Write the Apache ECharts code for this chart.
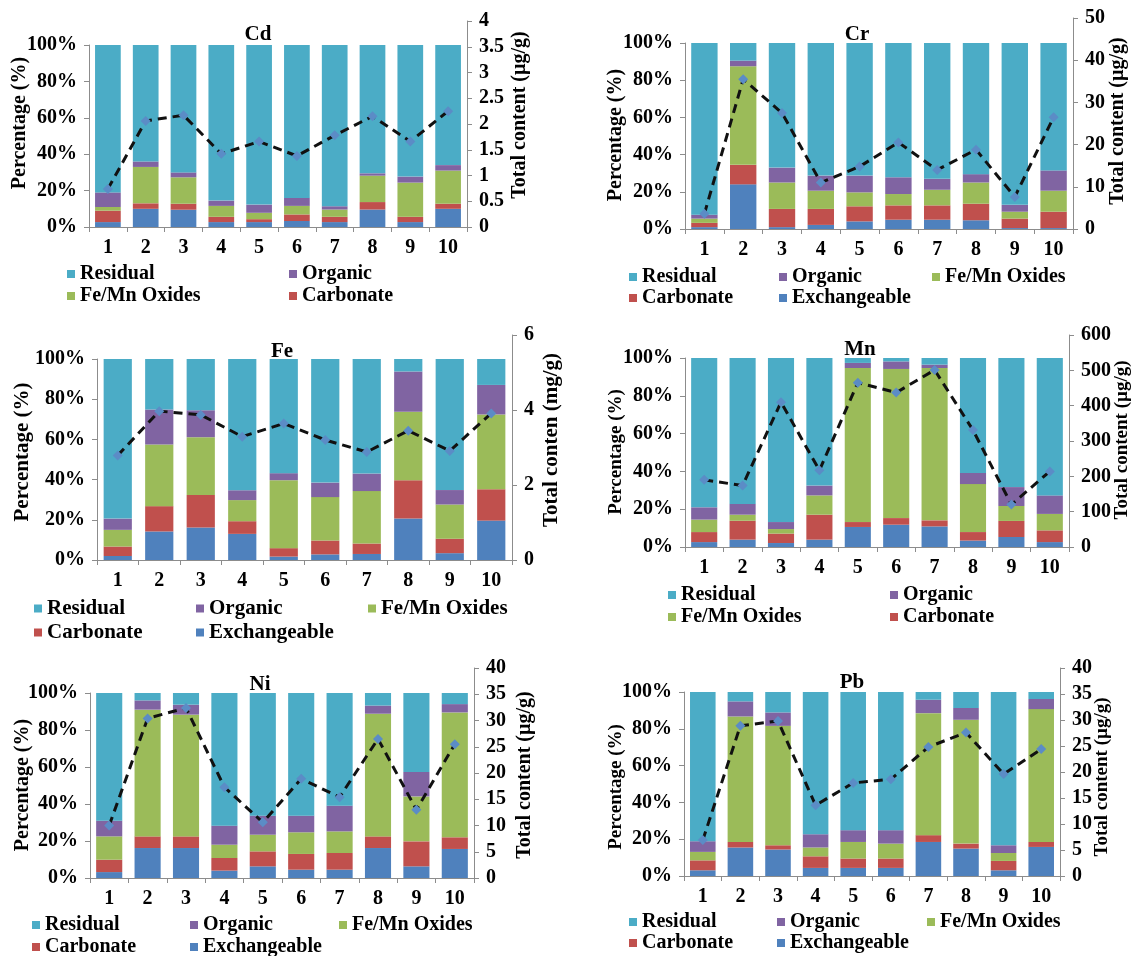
<!DOCTYPE html>
<html>
<head>
<meta charset="utf-8">
<script src="https://cdn.jsdelivr.net/npm/echarts@6/dist/echarts.min.js"></script>
<style>
html, body { margin: 0; padding: 0; background: #fff; }
#chart { width: 1134px; height: 956px; }
</style>
</head>
<body>
<div id="chart"></div>
<script>
var sites = ['1', '2', '3', '4', '5', '6', '7', '8', '9', '10'];
var fractionNames = ['Exchangeable', 'Carbonate', 'Fe/Mn Oxides', 'Organic', 'Residual'];
var fractionColors = ['#4F81BD', '#C0504D', '#9BBB59', '#8064A2', '#4BACC6'];

// Cd (%)
var cdExch = [2.7, 10, 9.5, 2.7, 2.7, 3.3, 2.7, 9.6, 2.7, 10];
var cdCarb = [6.3, 3, 3.3, 2.9, 1.6, 3.6, 2.9, 4.1, 2.9, 2.8];
var cdFeMn = [2, 20, 14.5, 6, 3.5, 4.7, 4, 14.5, 18.8, 18.2];
var cdOrg = [8, 3, 2.7, 2.9, 4.5, 4.4, 1.8, 1.3, 3.3, 3];
var cdRes = [81, 64, 70, 85.5, 87.7, 84, 88.6, 70.5, 72.3, 66];
var cdTotal = [0.74, 2.06, 2.17, 1.42, 1.66, 1.38, 1.78, 2.15, 1.66, 2.25];

// Cr (%)
var crExch = [1, 24, 1, 2.2, 4.1, 5, 5, 4.7, 0.5, 0.5];
var crCarb = [2.3, 10.5, 9.8, 8.6, 8.1, 7.7, 7.7, 8.9, 5.1, 8.8];
var crFeMn = [2.3, 53, 14.2, 9.8, 7.5, 6.1, 8.4, 11.4, 3.7, 11.3];
var crOrg = [2.1, 3, 8, 8.1, 9, 9, 5.9, 4.5, 3.7, 10.9];
var crRes = [92.3, 9.5, 67, 71.3, 71.3, 72.2, 73, 70.5, 87, 68.5];
var crTotal = [3.6, 35.5, 27.5, 11, 14.8, 20.5, 14, 18.8, 7.6, 26.5];

// Fe (%)
var feExch = [2, 14.2, 16.2, 13, 1.7, 2.8, 3, 20.6, 3.4, 19.6];
var feCarb = [4.7, 12.6, 16.1, 6.3, 4.2, 6.9, 5.2, 19.1, 7.2, 15.6];
var feFeMn = [8.3, 30.7, 28.8, 10.5, 33.8, 21.6, 26.1, 34, 17, 37.2];
var feOrg = [5.6, 17.4, 13.4, 4.9, 3.5, 7.2, 8.7, 20.1, 7.2, 14.7];
var feRes = [79.4, 25.1, 25.5, 65.3, 56.8, 61.5, 57, 6.2, 65.2, 12.9];
var feTotal = [2.79, 3.97, 3.87, 3.29, 3.64, 3.2, 2.88, 3.45, 2.91, 3.91];

// Mn (%)
var mnExch = [2.6, 3.9, 2.1, 3.9, 10.6, 11.8, 10.9, 3.4, 5.3, 2.6];
var mnCarb = [5.3, 10, 5, 13.2, 2.6, 3.5, 3.2, 4.5, 8.5, 6.2];
var mnFeMn = [6.6, 3.2, 2.4, 10.2, 81.5, 78.9, 80.6, 25.4, 7.9, 8.7];
var mnOrg = [6.5, 5.7, 3.7, 5.2, 2.7, 4, 1.8, 5.9, 10, 9.8];
var mnRes = [79, 77.2, 86.8, 67.5, 2.6, 1.8, 3.5, 60.8, 68.3, 72.7];
var mnTotal = [190, 174, 410, 217, 465, 437, 501, 331, 120, 214];

// Ni (%)
var niExch = [3.2, 16.2, 16.2, 4, 6.3, 4.5, 4.5, 16.2, 6.3, 15.7];
var niCarb = [6.7, 6.3, 6.3, 6.8, 8.1, 8.5, 9, 6.3, 13.5, 6.3];
var niFeMn = [12.6, 68.5, 65.8, 7.2, 9, 11.7, 11.7, 66.3, 24.3, 67.5];
var niOrg = [8.5, 5, 5.4, 10.3, 10.3, 9, 13.9, 4.4, 13.2, 4.5];
var niRes = [69, 4, 6.3, 71.7, 66.3, 66.3, 60.9, 6.8, 42.7, 6];
var niTotal = [10, 30.4, 32.4, 17.3, 10.6, 18.9, 15.4, 26.5, 13, 25.5];

// Pb (%)
var pbExch = [3.1, 15.5, 14.4, 4.4, 4.4, 4.4, 18.5, 14.9, 3.1, 15.8];
var pbCarb = [5.4, 3, 2.3, 6.3, 5.1, 5.1, 3.7, 2.7, 5.1, 2.7];
var pbFeMn = [4.6, 68.2, 64.9, 4.8, 9, 8.1, 66.3, 67.3, 4.3, 72.2];
var pbOrg = [5.8, 8.2, 7.3, 7.2, 6.4, 7.3, 7.3, 6.4, 4.2, 5.5];
var pbRes = [81.1, 5.1, 11.1, 77.3, 75.1, 75.1, 4.2, 8.7, 83.3, 3.8];
var pbTotal = [6.9, 28.9, 29.8, 13.6, 17.9, 18.6, 24.8, 27.6, 19.6, 24.4];

var FONT = '"Liberation Serif", "Times New Roman", serif';

// layout of each panel: x0/x1 = plot left/right, y100/y0 = 100% and 0% lines, yT = top of right axis
var panels = [
    { name: 'Cd', fr: [cdExch, cdCarb, cdFeMn, cdOrg, cdRes], total: cdTotal, tMax: 4, tStep: 0.5,
      rName: 'Total content (\u00b5g/g)',
      x0: 89, x1: 467, y100: 45, y0: 227, yT: 21,
      title: [258, 35], lName: [20, 123], rNamePos: [520, 115], nameSize: 20,
      legendCols: [[67, ['Residual', 'Fe/Mn Oxides']], [289, ['Organic', 'Carbonate']]],
      legendRow: 274, legendGap: 2, legendSize: 20 },
    { name: 'Cr', fr: [crExch, crCarb, crFeMn, crOrg, crRes], total: crTotal, tMax: 50, tStep: 10,
      rName: 'Total content (\u00b5g/g)',
      x0: 685, x1: 1073, y100: 43, y0: 229, yT: 18,
      title: [857, 35], lName: [616, 135], rNamePos: [1118, 121], nameSize: 20,
      legendCols: [[629, ['Residual', 'Carbonate']], [779, ['Organic', 'Exchangeable']], [932, ['Fe/Mn Oxides']]],
      legendRow: 277, legendGap: 1, legendSize: 20 },
    { name: 'Fe', fr: [feExch, feCarb, feFeMn, feOrg, feRes], total: feTotal, tMax: 6, tStep: 2,
      rName: 'Total conten (mg/g)',
      x0: 97, x1: 512, y100: 359, y0: 560, yT: 335,
      title: [282, 352], lName: [23, 452], rNamePos: [552, 440], nameSize: 21,
      legendCols: [[34, ['Residual', 'Carbonate']], [196, ['Organic', 'Exchangeable']], [368, ['Fe/Mn Oxides']]],
      legendRow: 608, legendGap: 3, legendSize: 21 },
    { name: 'Mn', fr: [mnExch, mnCarb, mnFeMn, mnOrg, mnRes], total: mnTotal, tMax: 600, tStep: 100,
      rName: 'Total content (\u00b5g/g)',
      x0: 685, x1: 1069, y100: 358, y0: 547, yT: 335,
      title: [860, 350], lName: [616, 452], rNamePos: [1122, 440], nameSize: 19,
      legendCols: [[668, ['Residual', 'Fe/Mn Oxides']], [890, ['Organic', 'Carbonate']]],
      legendRow: 595, legendGap: 2, legendSize: 20 },
    { name: 'Ni', fr: [niExch, niCarb, niFeMn, niOrg, niRes], total: niTotal, tMax: 40, tStep: 5,
      rName: 'Total content (\u00b5g/g)',
      x0: 90, x1: 474, y100: 693, y0: 878, yT: 668,
      title: [260, 685], lName: [23, 785], rNamePos: [525, 775], nameSize: 20,
      legendCols: [[32, ['Residual', 'Carbonate']], [190, ['Organic', 'Exchangeable']], [339, ['Fe/Mn Oxides']]],
      legendRow: 925, legendGap: 2, legendSize: 20 },
    { name: 'Pb', fr: [pbExch, pbCarb, pbFeMn, pbOrg, pbRes], total: pbTotal, tMax: 40, tStep: 5,
      rName: 'Total content (\u00b5g/g)',
      x0: 684, x1: 1060, y100: 692, y0: 876, yT: 668,
      title: [852, 683], lName: [616, 787], rNamePos: [1102, 777], nameSize: 19,
      legendCols: [[629, ['Residual', 'Carbonate']], [777, ['Organic', 'Exchangeable']], [927, ['Fe/Mn Oxides']]],
      legendRow: 922, legendGap: 1, legendSize: 20 }
];

var grids = [], xAxes = [], yAxes = [], series = [], legends = [], texts = [];
var axisGray = '#8c8c8c';
var labelStyle = { fontFamily: FONT, fontWeight: 'bold', fontSize: 20, color: '#000' };

panels.forEach(function (p, i) {
    var gBar = 2 * i, gLine = 2 * i + 1;
    grids.push({ left: p.x0, width: p.x1 - p.x0, top: p.y100, height: p.y0 - p.y100, outerBoundsMode: 'none' });
    grids.push({ left: p.x0, width: p.x1 - p.x0, top: p.yT, height: p.y0 - p.yT, outerBoundsMode: 'none' });

    xAxes.push({
        type: 'category', gridIndex: gBar, data: sites,
        axisLine: { lineStyle: { color: axisGray, width: 1 } },
        axisTick: { show: true, length: 5, lineStyle: { color: axisGray } },
        axisLabel: Object.assign({ margin: 11 }, labelStyle)
    });
    xAxes.push({ type: 'category', gridIndex: gLine, data: sites, show: false });

    yAxes.push({
        type: 'value', gridIndex: gBar, min: 0, max: 100, interval: 20,
        axisLine: { show: true, lineStyle: { color: axisGray, width: 1 } },
        axisTick: { show: true, length: 5, lineStyle: { color: axisGray } },
        splitLine: { show: false },
        axisLabel: Object.assign({ margin: 12, formatter: '{value}%' }, labelStyle)
    });
    yAxes.push({
        type: 'value', gridIndex: gLine, position: 'right', min: 0, max: p.tMax, interval: p.tStep,
        axisLine: { show: true, lineStyle: { color: axisGray, width: 1 } },
        axisTick: { show: true, length: 5, lineStyle: { color: axisGray } },
        splitLine: { show: false },
        axisLabel: Object.assign({ margin: 12 }, labelStyle)
    });

    p.fr.forEach(function (vals, k) {
        series.push({
            name: fractionNames[k], type: 'bar', stack: 'pct' + i,
            xAxisIndex: gBar, yAxisIndex: gBar,
            barCategoryGap: '32%',
            itemStyle: { color: fractionColors[k] },
            data: vals
        });
    });
    series.push({
        name: 'Total content', type: 'line',
        xAxisIndex: gLine, yAxisIndex: gLine,
        data: p.total,
        symbol: 'diamond', symbolSize: 10,
        itemStyle: { color: '#5b8cc6' },
        lineStyle: { color: '#111', width: 3, type: [9, 6] },
        z: 5
    });

    p.legendCols.forEach(function (col) {
        legends.push({
            orient: 'vertical', left: col[0], top: p.legendRow - 10, padding: 0,
            width: 200, height: 60,
            itemGap: p.legendGap, itemWidth: 8, itemHeight: 8, icon: 'rect',
            selectedMode: false,
            textStyle: { fontFamily: FONT, fontWeight: 'bold', fontSize: p.legendSize, color: '#000', lineHeight: 20 },
            data: col[1]
        });
    });

    texts.push({ type: 'text', x: p.title[0], y: p.title[1],
        style: { text: p.name, font: 'bold 21px ' + FONT, fill: '#000', align: 'center', verticalAlign: 'middle' } });
    texts.push({ type: 'text', x: p.lName[0], y: p.lName[1], rotation: Math.PI / 2,
        style: { text: 'Percentage (%)', font: 'bold ' + p.nameSize + 'px ' + FONT, fill: '#000', align: 'center', verticalAlign: 'middle' } });
    texts.push({ type: 'text', x: p.rNamePos[0], y: p.rNamePos[1], rotation: Math.PI / 2,
        style: { text: p.rName, font: 'bold ' + p.nameSize + 'px ' + FONT, fill: '#000', align: 'center', verticalAlign: 'middle' } });
});

var chart = echarts.init(document.getElementById('chart'));
chart.setOption({
    backgroundColor: '#fff',
    animation: false,
    grid: grids,
    xAxis: xAxes,
    yAxis: yAxes,
    legend: legends,
    graphic: texts,
    series: series
});
</script>
</body>
</html>
